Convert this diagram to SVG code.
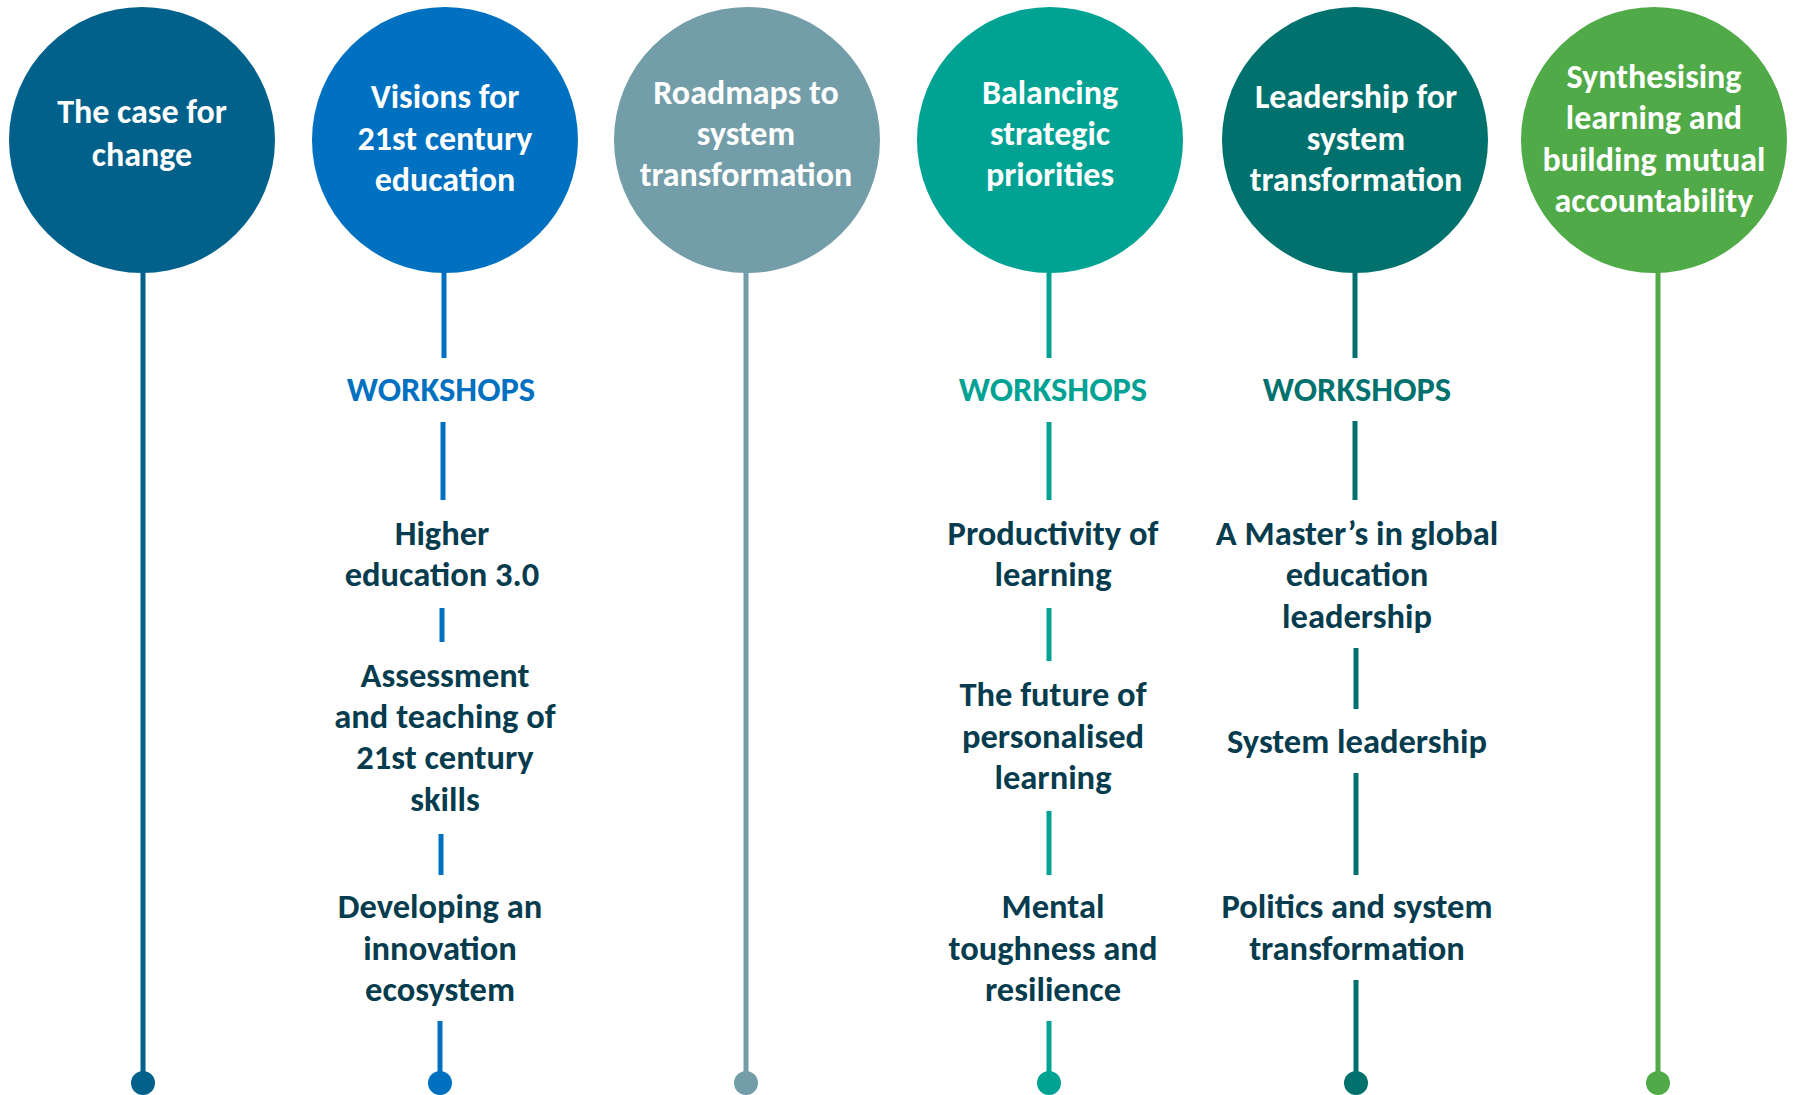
<svg xmlns="http://www.w3.org/2000/svg" width="1793" height="1095" viewBox="0 0 1793 1095">
<style>
.ct{font-family:Carlito,Lato,"Liberation Sans",sans-serif;font-weight:bold;font-size:34px;fill:#ffffff;text-anchor:middle}
.it{font-family:Carlito,Lato,"Liberation Sans",sans-serif;font-weight:bold;font-size:34.5px;fill:#063C4E;text-anchor:middle}
.ws{font-family:Carlito,Lato,"Liberation Sans",sans-serif;font-weight:bold;font-size:34.5px;text-anchor:middle}
.ln{stroke-width:5;fill:none}
</style>
<rect width="1793" height="1095" fill="#ffffff"/>
<g id="connectors">
  <line class="ln" stroke="#01618B" x1="143" y1="270" x2="143" y2="1078"/>
  <line class="ln" stroke="#0070C0" x1="444" y1="270" x2="444" y2="358"/>
  <line class="ln" stroke="#0070C0" x1="443" y1="422" x2="443" y2="500"/>
  <line class="ln" stroke="#0070C0" x1="442" y1="608" x2="442" y2="642"/>
  <line class="ln" stroke="#0070C0" x1="441" y1="834" x2="441" y2="875"/>
  <line class="ln" stroke="#0070C0" x1="440" y1="1021" x2="440" y2="1078"/>
  <line class="ln" stroke="#739DA9" x1="746" y1="270" x2="746" y2="1078"/>
  <line class="ln" stroke="#00A294" x1="1049" y1="270" x2="1049" y2="358"/>
  <line class="ln" stroke="#00A294" x1="1049" y1="422" x2="1049" y2="500"/>
  <line class="ln" stroke="#00A294" x1="1049" y1="608" x2="1049" y2="661"/>
  <line class="ln" stroke="#00A294" x1="1049" y1="811" x2="1049" y2="875"/>
  <line class="ln" stroke="#00A294" x1="1049" y1="1021" x2="1049" y2="1078"/>
  <line class="ln" stroke="#01716E" x1="1355" y1="270" x2="1355" y2="358"/>
  <line class="ln" stroke="#01716E" x1="1355" y1="421" x2="1355" y2="500"/>
  <line class="ln" stroke="#01716E" x1="1356" y1="648" x2="1356" y2="709"/>
  <line class="ln" stroke="#01716E" x1="1356" y1="773" x2="1356" y2="875"/>
  <line class="ln" stroke="#01716E" x1="1356" y1="980" x2="1356" y2="1078"/>
  <line class="ln" stroke="#4FAA47" x1="1658" y1="270" x2="1658" y2="1078"/>
  <circle cx="143" cy="1083" r="12" fill="#01618B"/>
  <circle cx="440" cy="1083" r="12" fill="#0070C0"/>
  <circle cx="746" cy="1083" r="12" fill="#739DA9"/>
  <circle cx="1049" cy="1083" r="12" fill="#00A294"/>
  <circle cx="1356" cy="1083" r="12" fill="#01716E"/>
  <circle cx="1658" cy="1083" r="12" fill="#4FAA47"/>
</g>
<g id="node1">
  <circle cx="142" cy="140" r="133" fill="#01618B"/>
  <text class="ct" x="142" y="123">The case for</text>
  <text class="ct" x="142" y="166">change</text>
</g>
<g id="node2">
  <circle cx="445" cy="140" r="133" fill="#0070C0"/>
  <text class="ct" x="445" y="108">Visions for</text>
  <text class="ct" x="445" y="150">21st century</text>
  <text class="ct" x="445" y="191">education</text>
</g>
<g id="node3">
  <circle cx="747" cy="140" r="133" fill="#739DA9"/>
  <text class="ct" x="746" y="104">Roadmaps to</text>
  <text class="ct" x="746" y="145">system</text>
  <text class="ct" x="746" y="186">transformation</text>
</g>
<g id="node4">
  <circle cx="1050" cy="140" r="133" fill="#00A294"/>
  <text class="ct" x="1050" y="104">Balancing</text>
  <text class="ct" x="1050" y="145">strategic</text>
  <text class="ct" x="1050" y="186">priorities</text>
</g>
<g id="node5">
  <circle cx="1355" cy="140" r="133" fill="#01716E"/>
  <text class="ct" x="1356" y="108">Leadership for</text>
  <text class="ct" x="1356" y="150">system</text>
  <text class="ct" x="1356" y="191">transformation</text>
</g>
<g id="node6">
  <circle cx="1654" cy="140" r="133" fill="#4FAA47"/>
  <text class="ct" x="1654" y="88">Synthesising</text>
  <text class="ct" x="1654" y="129">learning and</text>
  <text class="ct" x="1654" y="171">building mutual</text>
  <text class="ct" x="1654" y="212">accountability</text>
</g>
<g id="ws2"><text class="ws" x="441" y="401" fill="#0070C0">WORKSHOPS</text></g>
<g id="ws4"><text class="ws" x="1053" y="401" fill="#00A294">WORKSHOPS</text></g>
<g id="ws5"><text class="ws" x="1357" y="401" fill="#01716E">WORKSHOPS</text></g>
<g id="item2a">
  <text class="it" x="442" y="545">Higher</text>
  <text class="it" x="442" y="586">education 3.0</text>
</g>
<g id="item2b">
  <text class="it" x="445" y="687">Assessment</text>
  <text class="it" x="445" y="728">and teaching of</text>
  <text class="it" x="445" y="769">21st century</text>
  <text class="it" x="445" y="811">skills</text>
</g>
<g id="item2c">
  <text class="it" x="440" y="918">Developing an</text>
  <text class="it" x="440" y="960">innovation</text>
  <text class="it" x="440" y="1001">ecosystem</text>
</g>
<g id="item4a">
  <text class="it" x="1053" y="545">Productivity of</text>
  <text class="it" x="1053" y="586">learning</text>
</g>
<g id="item4b">
  <text class="it" x="1053" y="706">The future of</text>
  <text class="it" x="1053" y="748">personalised</text>
  <text class="it" x="1053" y="789">learning</text>
</g>
<g id="item4c">
  <text class="it" x="1053" y="918">Mental</text>
  <text class="it" x="1053" y="960">toughness and</text>
  <text class="it" x="1053" y="1001">resilience</text>
</g>
<g id="item5a">
  <text class="it" x="1357" y="545">A Master’s in global</text>
  <text class="it" x="1357" y="586">education</text>
  <text class="it" x="1357" y="628">leadership</text>
</g>
<g id="item5b">
  <text class="it" x="1357" y="753">System leadership</text>
</g>
<g id="item5c">
  <text class="it" x="1357" y="918">Politics and system</text>
  <text class="it" x="1357" y="960">transformation</text>
</g>
</svg>
